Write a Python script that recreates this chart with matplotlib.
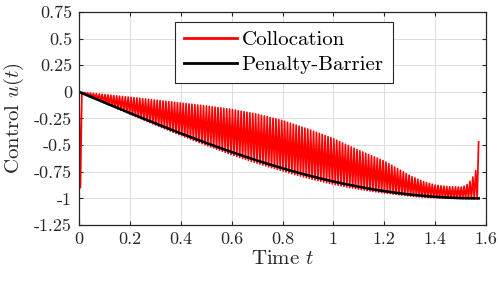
import numpy as np
import matplotlib
matplotlib.use('Agg')
import matplotlib.pyplot as plt

plt.rcParams['font.family'] = 'serif'
plt.rcParams['font.serif'] = ['cmr10']
plt.rcParams['mathtext.fontset'] = 'cm'
plt.rcParams['axes.unicode_minus'] = False
plt.rcParams['axes.formatter.use_mathtext'] = True

T_END = 1.5708

# collocation control: nodes alternate upper / lower values
u_upper = [0.000, -0.003, -0.006, -0.009, -0.011, -0.014, -0.017, -0.020, -0.023, -0.026,
           -0.028, -0.031, -0.034, -0.037, -0.040, -0.043, -0.046, -0.048, -0.051, -0.054,
           -0.057, -0.060, -0.064, -0.067, -0.070, -0.073, -0.076, -0.079, -0.082, -0.085,
           -0.088, -0.092, -0.095, -0.098, -0.101, -0.104, -0.108, -0.111, -0.114, -0.117,
           -0.120, -0.124, -0.127, -0.130, -0.133, -0.137, -0.141, -0.144, -0.148, -0.151,
           -0.155, -0.159, -0.162, -0.166, -0.172, -0.177, -0.182, -0.187, -0.192, -0.197,
           -0.202, -0.207, -0.213, -0.220, -0.227, -0.234, -0.241, -0.248, -0.254, -0.261,
           -0.268, -0.276, -0.286, -0.295, -0.304, -0.313, -0.322, -0.331, -0.340, -0.349,
           -0.359, -0.370, -0.380, -0.390, -0.400, -0.411, -0.421, -0.431, -0.442, -0.454,
           -0.467, -0.479, -0.492, -0.504, -0.517, -0.529, -0.542, -0.554, -0.565, -0.577,
           -0.588, -0.600, -0.611, -0.622, -0.634, -0.645, -0.659, -0.674, -0.689, -0.705,
           -0.720, -0.736, -0.751, -0.767, -0.782, -0.797, -0.808, -0.820, -0.831, -0.842,
           -0.851, -0.859, -0.867, -0.875, -0.878, -0.882, -0.885, -0.888, -0.890, -0.891,
           -0.892, -0.893, -0.893, -0.885, -0.870, -0.840, -0.800, -0.740, -0.470]

u_lower = [-0.900, -0.018, -0.030, -0.042, -0.054, -0.066, -0.078, -0.090, -0.101, -0.113,
           -0.125, -0.137, -0.149, -0.161, -0.172, -0.184, -0.196, -0.208, -0.220, -0.231,
           -0.243, -0.254, -0.266, -0.278, -0.289, -0.301, -0.312, -0.323, -0.335, -0.346,
           -0.357, -0.368, -0.379, -0.390, -0.401, -0.412, -0.423, -0.433, -0.444, -0.455,
           -0.465, -0.476, -0.486, -0.497, -0.507, -0.517, -0.527, -0.538, -0.548, -0.558,
           -0.568, -0.578, -0.588, -0.597, -0.606, -0.616, -0.625, -0.634, -0.643, -0.652,
           -0.661, -0.669, -0.678, -0.687, -0.695, -0.704, -0.712, -0.720, -0.728, -0.736,
           -0.744, -0.752, -0.760, -0.768, -0.776, -0.783, -0.790, -0.798, -0.805, -0.812,
           -0.819, -0.826, -0.833, -0.839, -0.846, -0.852, -0.859, -0.865, -0.871, -0.877,
           -0.882, -0.888, -0.893, -0.898, -0.903, -0.908, -0.913, -0.917, -0.922, -0.926,
           -0.930, -0.934, -0.938, -0.942, -0.946, -0.949, -0.953, -0.956, -0.960, -0.963,
           -0.967, -0.970, -0.973, -0.976, -0.979, -0.981, -0.984, -0.986, -0.988, -0.990,
           -0.991, -0.993, -0.994, -0.995, -0.997, -0.998, -0.998, -0.999, -1.000, -1.000,
           -1.001, -1.001, -1.002, -1.002, -1.002, -1.002, -1.001, -1.001]

# penalty-barrier control
t_pb = [0.0, 0.05, 0.1, 0.15, 0.2, 0.25, 0.3, 0.35, 0.4, 0.45, 0.5, 0.55, 0.6, 0.65,
        0.7, 0.75, 0.8, 0.85, 0.9, 0.95, 1.0, 1.05, 1.1, 1.15, 1.2, 1.25, 1.3, 1.35,
        1.4, 1.45, 1.5, 1.55, T_END]
u_pb = [0.0, -0.0500, -0.0998, -0.1494, -0.1987, -0.2474, -0.2955, -0.3429, -0.3894,
        -0.4350, -0.4794, -0.5227, -0.5646, -0.6052, -0.6442, -0.6816, -0.7174, -0.7513,
        -0.7833, -0.8134, -0.8415, -0.8674, -0.8912, -0.9128, -0.9320, -0.9490, -0.9636,
        -0.9757, -0.9854, -0.9927, -0.9975, -0.9998, -1.0]

# interleave the collocation nodes (upper, lower, upper, ...)
n_nodes = len(u_upper) + len(u_lower)
t_col = np.linspace(0, T_END, n_nodes)
u_col = np.empty(n_nodes)
u_col[0::2] = u_upper
u_col[1::2] = u_lower

fig = plt.figure(figsize=(4.98, 2.85), dpi=100)
ax = fig.add_axes([0.1586, 0.2105, 0.8174, 0.7475])

ax.plot(t_col, u_col, color='#ff0000', lw=1.25, label='Collocation')
ax.plot(t_pb, u_pb, color='black', lw=1.9, label='Penalty-Barrier')

ax.set_xlim(0, 1.6)
ax.set_ylim(-1.25, 0.75)
xt = [0, 0.2, 0.4, 0.6, 0.8, 1, 1.2, 1.4, 1.6]
yt = [0.75, 0.5, 0.25, 0, -0.25, -0.5, -0.75, -1, -1.25]
ax.set_xticks(xt)
ax.set_xticklabels(['0', '0.2', '0.4', '0.6', '0.8', '1', '1.2', '1.4', '1.6'])
ax.set_yticks(yt)
ax.set_yticklabels(['0.75', '0.5', '0.25', '0', '-0.25', '-0.5', '-0.75', '-1', '-1.25'])
ax.tick_params(direction='in', top=True, right=True, labelsize=13, length=3,
               width=0.8, color='#262626', labelcolor='#262626', pad=5)
ax.grid(True, color='#dcdcdc', lw=0.7)
ax.set_axisbelow(True)
for s in ax.spines.values():
    s.set_color('#262626')
    s.set_linewidth(0.9)

ax.set_xlabel('Time $t$', fontsize=15, color='#262626', labelpad=2)
ax.set_ylabel('Control $u(t)$', fontsize=15, color='#262626', labelpad=6)

leg = ax.legend(loc='upper left', bbox_to_anchor=(0.236, 0.953), fontsize=15,
                fancybox=False, framealpha=1, edgecolor='#262626',
                handlelength=2.5, handletextpad=0.25, borderpad=0.45,
                labelspacing=0.3, borderaxespad=0, handleheight=0.6)
leg.get_frame().set_linewidth(0.8)
for h in leg.get_lines():
    h.set_linewidth(2.0)

fig.savefig('out.png', dpi=100)
